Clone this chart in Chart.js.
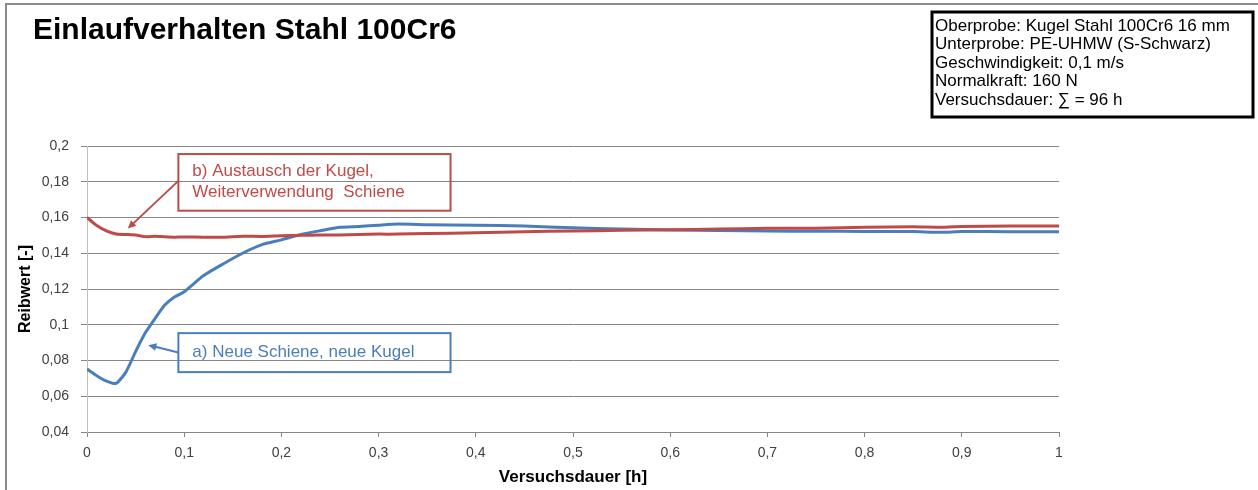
<!DOCTYPE html>
<html>
<head>
<meta charset="utf-8">
<script src="https://cdn.jsdelivr.net/npm/chart.js@4"></script>
<style>
  body { margin: 0; background: #fff; }
  canvas { display: block; }
</style>
</head>
<body>
<canvas id="reibChart" width="1258" height="490"></canvas>
<script>
// Data
const zeit = [0, 0.01, 0.02, 0.03, 0.04, 0.05, 0.06, 0.07, 0.08, 0.09, 0.1, 0.12, 0.14, 0.16, 0.18, 0.2,
    0.22, 0.24, 0.26, 0.28, 0.3, 0.32, 0.35, 0.4, 0.45, 0.5, 0.55, 0.6, 0.65, 0.7, 0.75, 0.8, 0.85, 0.88, 0.9, 0.95, 1];
const reibwertA = [0.0752, 0.0715, 0.0685, 0.0672, 0.0735, 0.0850, 0.0955, 0.1035, 0.1110, 0.1155, 0.1185, 0.1275,
    0.1340, 0.1400, 0.1448, 0.1475, 0.1505, 0.1526, 0.1545, 0.1550, 0.1557, 0.1563, 0.1560, 0.1557, 0.1552, 0.1542,
    0.1536, 0.1530, 0.1527, 0.1524, 0.1523, 0.1522, 0.1521, 0.1517, 0.1522, 0.1520, 0.1520];
const reibwertB = [0.1600, 0.1555, 0.1525, 0.1508, 0.1505, 0.1502, 0.1493, 0.1495, 0.1492, 0.1490, 0.1491, 0.1490,
    0.1490, 0.1495, 0.1494, 0.1498, 0.1500, 0.1502, 0.1502, 0.1505, 0.1507, 0.1507, 0.1510, 0.1515, 0.1520, 0.1525,
    0.1528, 0.1532, 0.1535, 0.1540, 0.1540, 0.1545, 0.1548, 0.1545, 0.1550, 0.1552, 0.1553];

const titel = "Einlaufverhalten Stahl 100Cr6";
const infoZeilen = [
    "Oberprobe: Kugel Stahl 100Cr6 16 mm",
    "Unterprobe: PE-UHMW (S-Schwarz)",
    "Geschwindigkeit: 0,1 m/s",
    "Normalkraft: 160 N",
    "Versuchsdauer: \u2211 = 96 h"
];
const labelA = "a) Neue Schiene, neue Kugel";
const labelB = ["b) Austausch der Kugel,", "Weiterverwendung  Schiene"];

const blau = "#4A7EBB";
const rot = "#BE4B48";

// Helpers
function toPoints(xs, ys) {
    return xs.map((x, i) => ({ x, y: ys[i] }));
}

function komma(v, digits) {
    const f = Math.pow(10, digits);
    return String(Math.round(v * f) / f).replace(".", ",");
}

function arrow(ctx, x1, y1, x2, y2, color) {
    const ang = Math.atan2(y2 - y1, x2 - x1);
    const head = 9;
    ctx.strokeStyle = color;
    ctx.fillStyle = color;
    ctx.lineWidth = 2;
    ctx.beginPath();
    ctx.moveTo(x1, y1);
    ctx.lineTo(x2 - Math.cos(ang) * head * 0.8, y2 - Math.sin(ang) * head * 0.8);
    ctx.stroke();
    ctx.beginPath();
    ctx.moveTo(x2, y2);
    ctx.lineTo(x2 - head * Math.cos(ang - 0.45), y2 - head * Math.sin(ang - 0.45));
    ctx.lineTo(x2 - head * Math.cos(ang + 0.45), y2 - head * Math.sin(ang + 0.45));
    ctx.closePath();
    ctx.fill();
}

// Frame, title, info box and callouts
const decoPlugin = {
    id: "deco",
    beforeDraw(chart) {
        const ctx = chart.ctx;
        ctx.save();
        ctx.fillStyle = "#fff";
        ctx.fillRect(0, 0, chart.width, chart.height);
        ctx.restore();
    },
    afterDraw(chart) {
        const ctx = chart.ctx;
        const xs = chart.scales.x;
        const ys = chart.scales.y;
        ctx.save();

        // outer frame (top + left)
        ctx.strokeStyle = "#8c8c8c";
        ctx.lineWidth = 2;
        ctx.beginPath();
        ctx.moveTo(6, 490);
        ctx.lineTo(6, 4);
        ctx.lineTo(1258, 4);
        ctx.stroke();

        // title
        ctx.fillStyle = "#000";
        ctx.font = "bold 30px 'Liberation Sans', Arial, sans-serif";
        ctx.textBaseline = "middle";
        ctx.textAlign = "left";
        ctx.fillText(titel, 33, 31);

        // info box
        ctx.lineWidth = 3;
        ctx.strokeStyle = "#000";
        ctx.strokeRect(932, 12, 321, 105);
        ctx.font = "17px 'Liberation Sans', Arial, sans-serif";
        infoZeilen.forEach((z, i) => ctx.fillText(z, 935, 26 + i * 18.5));

        // callout b)
        const bx1 = xs.getPixelForValue(0.094), bx2 = xs.getPixelForValue(0.374);
        const by1 = ys.getPixelForValue(0.1955), by2 = ys.getPixelForValue(0.1638);
        ctx.strokeStyle = rot;
        ctx.lineWidth = 2;
        ctx.strokeRect(bx1, by1, bx2 - bx1, by2 - by1);
        ctx.fillStyle = rot;
        ctx.font = "17px 'Liberation Sans', Arial, sans-serif";
        ctx.fillText(labelB[0], bx1 + 14, by1 + 17);
        ctx.fillText(labelB[1], bx1 + 14, by1 + 38);
        arrow(ctx, bx1, ys.getPixelForValue(0.1805), xs.getPixelForValue(0.042), ys.getPixelForValue(0.1538), rot);

        // callout a)
        const ax1 = xs.getPixelForValue(0.094), ax2 = xs.getPixelForValue(0.374);
        const ay1 = ys.getPixelForValue(0.0953), ay2 = ys.getPixelForValue(0.0735);
        ctx.strokeStyle = blau;
        ctx.strokeRect(ax1, ay1, ax2 - ax1, ay2 - ay1);
        ctx.fillStyle = blau;
        ctx.fillText(labelA, ax1 + 14, (ay1 + ay2) / 2);
        arrow(ctx, ax1, ys.getPixelForValue(0.0845), xs.getPixelForValue(0.063), ys.getPixelForValue(0.0886), blau);

        ctx.restore();
    }
};

new Chart(document.getElementById("reibChart"), {
    type: "line",
    data: {
        datasets: [
            {
                label: labelA,
                data: toPoints(zeit, reibwertA),
                borderColor: blau,
                borderWidth: 3,
                pointRadius: 0,
                tension: 0.2,
                order: 1,
            },
            {
                label: labelB.join(" "),
                data: toPoints(zeit, reibwertB),
                borderColor: rot,
                borderWidth: 3,
                pointRadius: 0,
                tension: 0.2,
                order: 0,
            },
        ],
    },
    options: {
        responsive: false,
        animation: false,
        devicePixelRatio: 1,
        layout: { padding: { top: 146, right: 199, left: 0, bottom: 0 } },
        plugins: {
            legend: { display: false },
            tooltip: { enabled: false },
        },
        scales: {
            x: {
                type: "linear",
                min: 0,
                max: 1,
                afterFit: (s) => { s.height = 58; },
                ticks: {
                    stepSize: 0.1,
                    color: "#404040",
                    padding: 8,
                    font: { family: "'Liberation Sans', Arial, sans-serif", size: 14 },
                    callback: (v) => komma(v, 1),
                },
                grid: { drawOnChartArea: false, tickLength: 5, color: "#868686" },
                border: { color: "#868686" },
                title: {
                    display: true,
                    text: "Versuchsdauer [h]",
                    color: "#000",
                    padding: { top: 0, bottom: 2 },
                    font: { family: "'Liberation Sans', Arial, sans-serif", size: 17, weight: "bold" },
                },
            },
            y: {
                min: 0.04,
                max: 0.2,
                afterFit: (s) => { s.width = 87; },
                ticks: {
                    stepSize: 0.02,
                    color: "#404040",
                    padding: 12,
                    font: { family: "'Liberation Sans', Arial, sans-serif", size: 14 },
                    callback: (v) => komma(v, 2),
                },
                grid: { color: "#868686", tickLength: 6 },
                border: { color: "#BFBFBF" },
                title: {
                    display: true,
                    text: "Reibwert [-]",
                    color: "#000",
                    padding: { top: 16, bottom: 0 },
                    font: { family: "'Liberation Sans', Arial, sans-serif", size: 16, weight: "bold" },
                },
            },
        },
    },
    plugins: [decoPlugin],
});
</script>
</body>
</html>
